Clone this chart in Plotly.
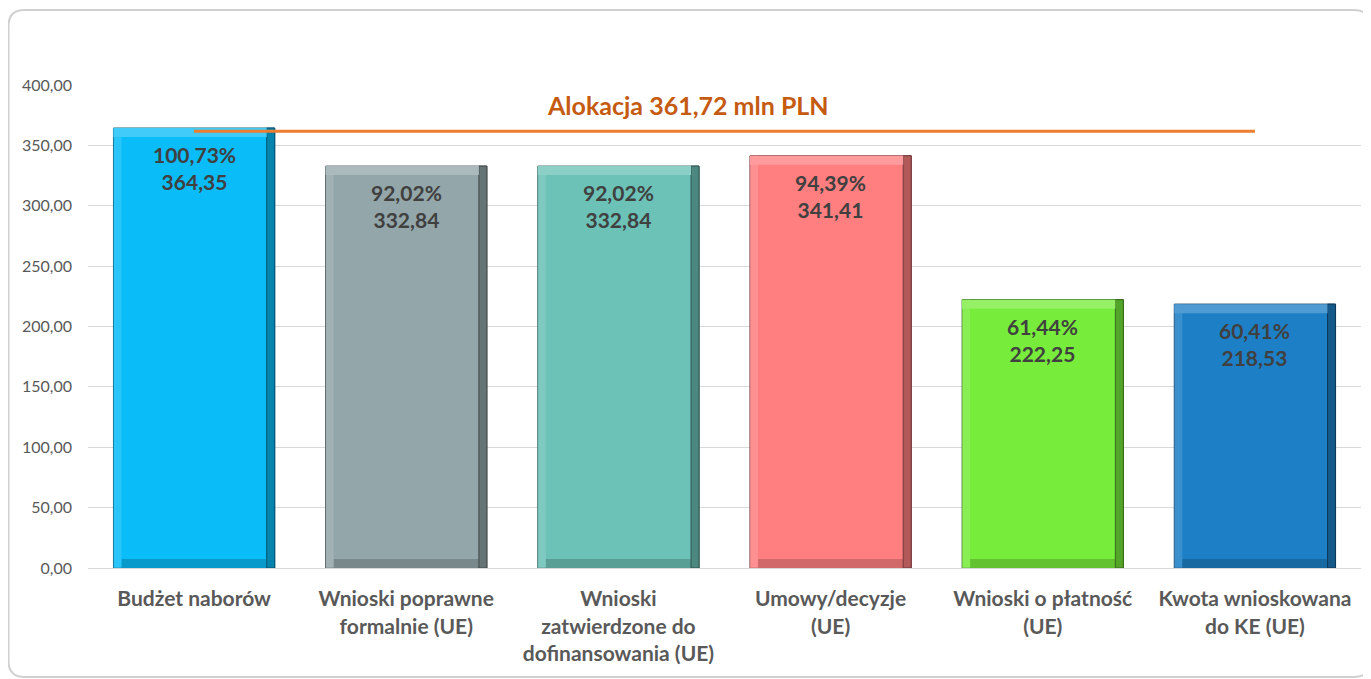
import plotly.graph_objects as go

categories = [
    "Budżet naborów",
    "Wnioski poprawne<br>formalnie (UE)",
    "Wnioski<br>zatwierdzone do<br>dofinansowania (UE)",
    "Umowy/decyzje<br>(UE)",
    "Wnioski o płatność<br>(UE)",
    "Kwota wnioskowana<br>do KE (UE)",
]
values = [364.35, 332.84, 332.84, 341.41, 222.25, 218.53]
percents = ["100,73%", "92,02%", "92,02%", "94,39%", "61,44%", "60,41%"]
value_labels = ["364,35", "332,84", "332,84", "341,41", "222,25", "218,53"]
allocation = 361.72
allocation_label = "Alokacja 361,72 mln PLN"
bar_colors = ["#0ABCF7", "#93A6A9", "#6CC2B7", "#FF7F80", "#77EC3B", "#1D7FC5"]
y_ticks = [0, 50, 100, 150, 200, 250, 300, 350, 400]

FONT = "Lato, 'Open Sans', sans-serif"

W, H = 1363, 671          # page adds an 8px body margin
ML, MR, MT, MB = 80, 10, 77, 111
BAR_W = 0.76


def mix(hex_color, other, t):
    h = hex_color.lstrip("#")
    r, g, b = (int(h[i:i + 2], 16) for i in (0, 2, 4))
    o = (255, 255, 255) if other == "white" else (0, 0, 0)
    r, g, b = (round(c + (oc - c) * t) for c, oc in zip((r, g, b), o))
    return f"#{r:02X}{g:02X}{b:02X}"


light = [mix(c, "white", 0.22) for c in bar_colors]
dark = [mix(c, "black", 0.18) for c in bar_colors]
darker = [mix(c, "black", 0.30) for c in bar_colors]
edge = [mix(c, "black", 0.55) for c in bar_colors]

pw = W - ML - MR
ph = H - MT - MB
px_y = 400 / ph      # data units per pixel (y)
px_x = 1 / (pw / 6)  # category units per pixel (x)
bevel_y = 9 * px_y
bevel_x = 8 * px_x

fig = go.Figure()
# main face
fig.add_trace(go.Bar(
    x=categories, y=values, width=BAR_W,
    marker=dict(color=bar_colors, line=dict(color=edge, width=1)),
    hoverinfo="skip",
))
# bottom bevel
fig.add_trace(go.Bar(
    x=categories, y=[bevel_y] * len(values), base=[0] * len(values),
    width=BAR_W - 2 * bevel_x, offset=-BAR_W / 2 + bevel_x,
    marker=dict(color=dark, line=dict(width=0)),
    hoverinfo="skip",
))
# left bevel
fig.add_trace(go.Bar(
    x=categories, y=values, width=bevel_x, offset=-BAR_W / 2,
    marker=dict(color=light, line=dict(width=0), opacity=0.6),
    hoverinfo="skip",
))
# right bevel
fig.add_trace(go.Bar(
    x=categories, y=values, width=bevel_x, offset=BAR_W / 2 - bevel_x,
    marker=dict(color=darker, line=dict(color=edge, width=1)),
    hoverinfo="skip",
))
# top bevel
fig.add_trace(go.Bar(
    x=categories, y=[bevel_y] * len(values),
    base=[v - bevel_y for v in values],
    width=BAR_W - bevel_x, offset=-BAR_W / 2,
    marker=dict(color=light, line=dict(width=0)),
    hoverinfo="skip",
))
fig.add_trace(go.Scatter(
    x=[categories[0], categories[-1]],
    y=[allocation, allocation],
    mode="lines",
    line=dict(color="#ED7D31", width=3),
    hoverinfo="skip",
))
for cat, val, pct, lab in zip(categories, values, percents, value_labels):
    fig.add_annotation(
        x=cat, y=val, xref="x", yref="y",
        text=f"<b>{pct}<br>{lab}</b>",
        showarrow=False,
        yanchor="top", yshift=-12,
        font=dict(family=FONT, size=21, color="#404040"),
    )
fig.add_annotation(
    x=0.471, xref="paper",
    y=allocation + 22, yref="y",
    text=f"<b>{allocation_label}</b>",
    showarrow=False,
    font=dict(family=FONT, size=25, color="#C55A11"),
)

# rounded card border, positioned in paper coordinates
cx0 = (0.5 - ML) / pw
cx1 = (W - 1 - ML) / pw
cy1 = 1 + (MT - 2) / ph
cy0 = -(MB - 2) / ph
rx, ry = 16 / pw, 16 / ph
path = (f"M {cx0+rx},{cy1} L {cx1-rx},{cy1} Q {cx1},{cy1} {cx1},{cy1-ry} "
        f"L {cx1},{cy0+ry} Q {cx1},{cy0} {cx1-rx},{cy0} L {cx0+rx},{cy0} "
        f"Q {cx0},{cy0} {cx0},{cy0+ry} L {cx0},{cy1-ry} Q {cx0},{cy1} {cx0+rx},{cy1} Z")
fig.add_shape(type="path", path=path, xref="paper", yref="paper",
              line=dict(color="#D0D0D0", width=2), layer="below")

fig.update_layout(
    width=W, height=H,
    margin=dict(l=ML, r=MR, t=MT, b=MB),
    paper_bgcolor="white",
    plot_bgcolor="white",
    showlegend=False,
    barmode="overlay",
    separators=", ",
    font=dict(family=FONT, color="#595959"),
)
fig.update_xaxes(
    showgrid=False,
    showline=True, linecolor="#D9D9D9", linewidth=1,
    tickfont=dict(family=FONT, size=21, color="#595959", weight="bold"),
    ticklabelstandoff=12,
    tickangle=0,
)
fig.update_yaxes(
    range=[0, 400],
    tickvals=y_ticks,
    tickformat=".2f",
    showgrid=True, gridcolor="#D9D9D9", gridwidth=1,
    zeroline=False,
    tickfont=dict(family=FONT, size=16, color="#595959"),
    ticklabelstandoff=15,
)

fig.write_html("out.html")
